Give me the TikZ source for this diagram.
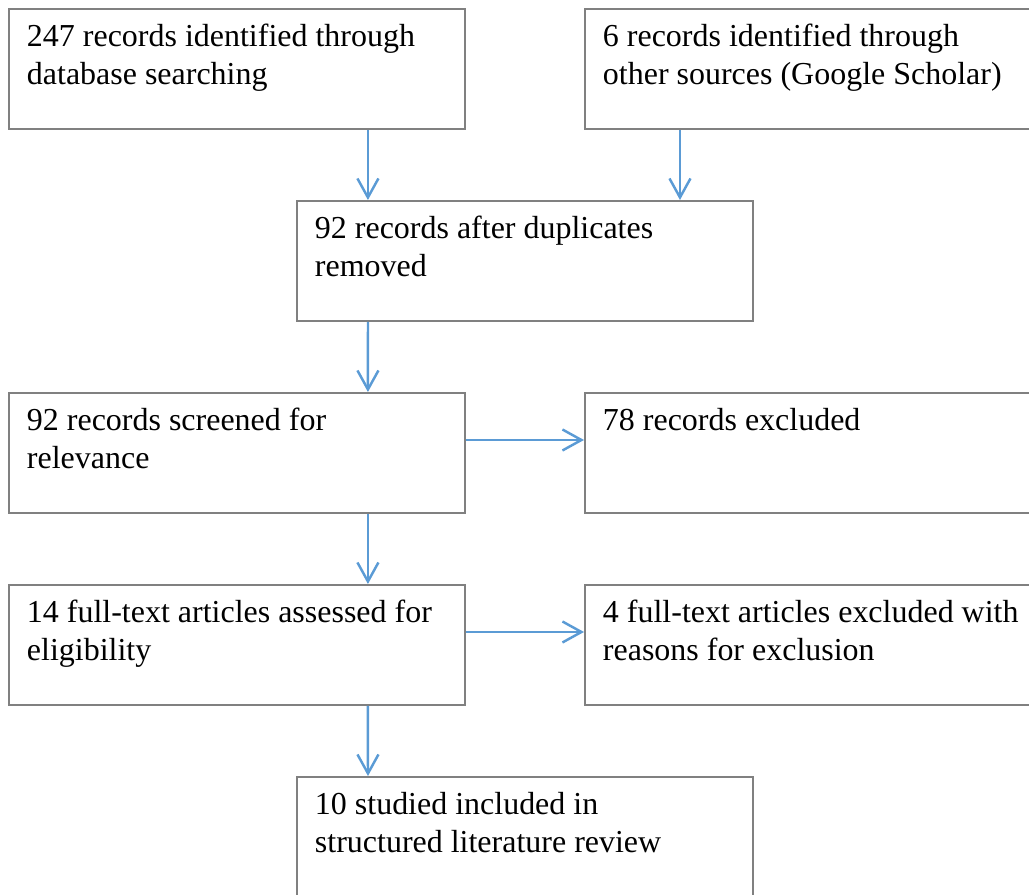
\documentclass[tikz,border=0pt]{standalone}
\usepackage{fontspec}
\setmainfont{Liberation Serif}
\usetikzlibrary{arrows.meta}
\definecolor{boxgray}{HTML}{808080}
\definecolor{flowblue}{HTML}{5B9BD5}

\begin{document}
\begin{tikzpicture}[x=0.02cm, y=-0.02cm,
  stage/.style={draw=boxgray, line width=1.1pt, anchor=north west,
    text width=8.4cm, inner xsep=0.36cm, inner ysep=0pt,
    text height=0.75cm, text depth=1.65cm, align=flush left,
    font=\fontsize{18.2pt}{21.9pt}\selectfont},
  flow/.style={draw=flowblue, line width=1.4pt,
    -{Straight Barb[length=0.38cm, width=0.42cm]}}]
\useasboundingbox (0,0) rectangle (1029,895);
\clip (0,0) rectangle (1029,895);
% identification
\node[stage] (dbsearch) at (8,8) {247 records identified through\\database searching};
\node[stage] (othersrc) at (584,8) {6 records identified through\\other sources (Google Scholar)};
% screening
\node[stage] (dedup) at (296,200) {92 records after duplicates\\removed};
\node[stage] (screened) at (8,392) {92 records screened for\\relevance};
\node[stage] (excluded) at (584,392) {78 records excluded};
% eligibility
\node[stage] (fulltext) at (8,584) {14 full-text articles assessed for\\eligibility};
\node[stage] (ftexcl) at (584,584) {4 full-text articles excluded with\\reasons for exclusion};
% included
\node[stage] (included) at (296,776) {10 studied included in\\structured literature review};
% arrows down
\draw[flow] ([xshift=7.2cm]dbsearch.south west) -- ([xshift=7.2cm]dbsearch.south west |- dedup.north);
\draw[flow] ([xshift=1.92cm]othersrc.south west) -- ([xshift=1.92cm]othersrc.south west |- dedup.north);
\draw[flow] ([xshift=1.44cm]dedup.south west) -- ([xshift=7.2cm]screened.north west);
\draw[flow] ([xshift=7.2cm]screened.south west) -- ([xshift=7.2cm]fulltext.north west);
\draw[flow] ([xshift=7.2cm]fulltext.south west) -- ([xshift=1.44cm]included.north west);
% arrows right
\draw[flow] ([yshift=-0.96cm]screened.north east) -- ([yshift=-0.96cm]screened.north east -| excluded.west);
\draw[flow] ([yshift=-0.96cm]fulltext.north east) -- ([yshift=-0.96cm]fulltext.north east -| ftexcl.west);
\end{tikzpicture}
\end{document}
